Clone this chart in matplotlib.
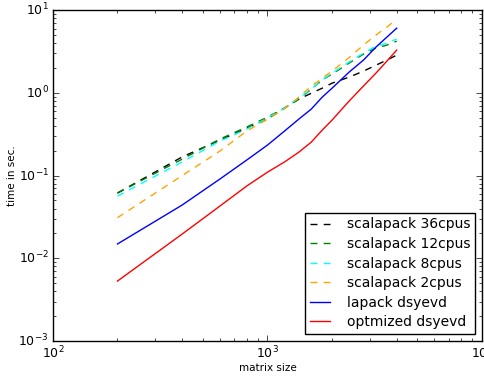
#!/usr/bin/env python3
"""
plot.py - eigensolver timings, scalapack vs lapack
"""

import matplotlib
matplotlib.use('Agg')
from matplotlib import pyplot as plt

# matrix sizes
sizes = [200, 400, 600, 800, 1000, 1200, 1400, 1600, 1800, 2000,
         2400, 2800, 3200, 3600, 4000]

# time in seconds
scalapack_36 = [0.0615, 0.168, 0.268, 0.375, 0.482, 0.655, 0.84, 0.99,
                1.14, 1.31, 1.55, 1.83, 2.16, 2.49, 2.86]
scalapack_12 = [0.0615, 0.158, 0.276, 0.386, 0.509, 0.655, 0.84, 1.11,
                1.43, 1.69, 2.29, 2.94, 3.48, 3.78, 4.22]
scalapack_8 = [0.0565, 0.146, 0.261, 0.365, 0.495, 0.655, 0.865, 1.11,
               1.43, 1.73, 2.36, 3.02, 3.67, 3.99, 4.47]
scalapack_2 = [0.031, 0.0998, 0.198, 0.345, 0.48, 0.64, 0.89, 1.2,
               1.51, 1.83, 2.67, 3.78, 4.99, 6.24, 7.78]
lapack = [0.0149, 0.044, 0.0908, 0.154, 0.234, 0.345, 0.482, 0.637,
          0.889, 1.14, 1.78, 2.49, 3.57, 4.72, 6.05]
optimized = [0.00531, 0.0196, 0.0428, 0.0747, 0.110, 0.146, 0.192, 0.254,
             0.355, 0.469, 0.795, 1.21, 1.73, 2.42, 3.29]


def main():
    plt.style.use('classic')
    plt.rcParams['figure.facecolor'] = 'white'
    plt.rcParams['savefig.facecolor'] = 'white'
    plt.rcParams['mathtext.fontset'] = 'dejavusans'
    plt.rcParams['lines.dashed_pattern'] = [5, 4.5]

    fig = plt.figure(figsize=(4.85, 3.76), dpi=100)
    ax = fig.add_axes([0.109, 0.093, 0.885, 0.880])

    ax.loglog(sizes, scalapack_36, 'k--', label='scalapack 36cpus')
    ax.loglog(sizes, scalapack_12, 'g--', label='scalapack 12cpus')
    ax.loglog(sizes, scalapack_8, '--', color='cyan', label='scalapack 8cpus')
    ax.loglog(sizes, scalapack_2, '--', color='orange', label='scalapack 2cpus')
    ax.loglog(sizes, lapack, 'b-', label='lapack dsyevd')
    ax.loglog(sizes, optimized, 'r-', label='optmized dsyevd')

    ax.set_xlim(100, 10000)
    ax.set_ylim(1e-3, 10)
    ax.set_xlabel('matrix size', fontsize=7.5, labelpad=1)
    ax.set_ylabel('time in sec.', fontsize=7.5, labelpad=1)
    ax.tick_params(labelsize=9)
    ax.tick_params(axis='both', which='major', pad=3)

    ax.legend(loc='lower right', fontsize=10, numpoints=1,
              handlelength=1.45, handletextpad=1.2, labelspacing=0.4,
              borderpad=0.35, borderaxespad=0.5)

    fig.savefig('out.png', dpi=100)


if __name__ == '__main__':
    main()
